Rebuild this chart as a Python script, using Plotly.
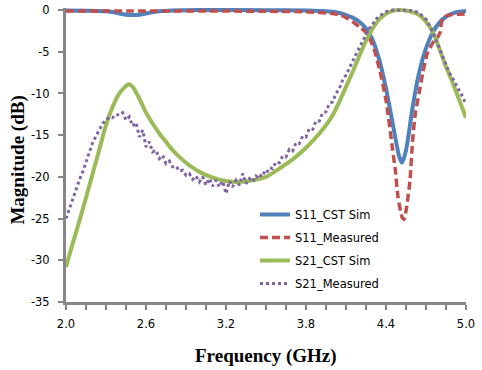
import numpy as np
import plotly.graph_objects as go

# ---------------- data ----------------
s11_sim_f = [2.0, 2.3, 2.4, 2.45, 2.5, 2.55, 2.6, 2.7, 2.8, 3.0, 3.5, 3.8, 3.9, 4.0, 4.05, 4.1, 4.15, 4.2,
             4.25, 4.3, 4.35, 4.4, 4.45, 4.5, 4.52, 4.55, 4.6, 4.65, 4.7, 4.75, 4.8, 4.85, 4.9, 4.95, 5.0]
s11_sim_db = [-0.05, -0.15, -0.4, -0.55, -0.6, -0.55, -0.4, -0.15, -0.05, 0.0, -0.02, -0.05, -0.1, -0.2, -0.35,
              -0.6, -0.9, -1.4, -2.2, -3.6, -6.0, -9.4, -13.6, -17.6, -18.3, -16.8, -11.6, -7.4, -4.6, -2.7,
              -1.5, -0.8, -0.4, -0.2, -0.1]

s11_meas_f = [2.0, 2.5, 3.0, 3.5, 3.8, 3.9, 4.0, 4.05, 4.1, 4.15, 4.2, 4.25, 4.3, 4.35, 4.4, 4.45, 4.47,
              4.49, 4.52, 4.535, 4.555, 4.58, 4.6, 4.62, 4.65, 4.675, 4.71, 4.76, 4.79, 4.805, 4.815, 4.83,
              4.87, 4.95, 5.0]
s11_meas_db = [-0.1, -0.1, -0.1, -0.15, -0.2, -0.3, -0.4, -0.55, -0.9, -1.4, -2.0, -2.7, -4.2, -7.0, -10.8,
               -16.8, -19.2, -22.4, -24.8, -25.1, -23.6, -20.4, -15.5, -12.4, -9.8, -7.6, -5.2, -3.7, -3.2,
               -2.7, -1.6, -0.9, -0.6, -0.5, -0.45]

s21_sim_f = [2.0, 2.05, 2.1, 2.15, 2.2, 2.25, 2.3, 2.35, 2.4, 2.45, 2.47, 2.5, 2.55, 2.6, 2.65, 2.7, 2.75,
             2.8, 2.85, 2.9, 2.95, 3.0, 3.1, 3.2, 3.3, 3.4, 3.5, 3.6, 3.7, 3.8, 3.9, 4.0, 4.1, 4.15, 4.2,
             4.25, 4.3, 4.35, 4.4, 4.45, 4.5, 4.55, 4.6, 4.65, 4.7, 4.75, 4.8, 4.85, 4.9, 4.95, 5.0]
s21_sim_db = [-30.8, -28.0, -25.3, -22.5, -19.6, -16.7, -13.8, -11.6, -10.0, -9.1, -8.9, -9.2, -10.6, -12.3,
              -13.6, -14.8, -15.8, -16.8, -17.6, -18.3, -18.9, -19.4, -20.1, -20.5, -20.6, -20.4, -20.0,
              -19.0, -17.9, -16.5, -14.8, -12.6, -9.2, -7.4, -5.5, -3.7, -2.2, -1.1, -0.45, -0.1, 0.0,
              -0.05, -0.25, -0.6, -1.4, -2.6, -4.6, -6.8, -8.7, -10.8, -12.9]

s21_meas_f = [round(2.0 + 0.025 * i, 3) for i in range(121)]
s21_meas_db = [-25.0, -23.8, -22.6, -21.6, -20.4, -19.4, -18.2, -17.1, -15.9, -15.1,
               -14.3, -13.6, -13.2, -12.8, -12.9, -12.5, -12.6, -12.3, -13.2, -12.8,
               -13.9, -13.5, -15.2, -14.4, -16.4, -15.8, -17.0, -16.8, -17.8, -17.4,
               -18.4, -18.1, -18.8, -18.7, -19.3, -19.2, -19.8, -19.6, -20.3, -19.9,
               -20.6, -20.0, -21.0, -20.2, -21.1, -20.4, -21.2, -20.5, -22.0, -20.5,
               -21.2, -20.4, -21.0, -19.6, -20.8, -20.2, -20.6, -19.9, -20.2, -19.4,
               -19.7, -18.9, -19.0, -18.2, -18.3, -17.5, -17.6, -16.7, -16.9, -15.9,
               -16.0, -15.1, -15.2, -14.2, -14.3, -13.3, -13.3, -12.3, -12.2, -11.2,
               -11.0, -10.0, -9.4, -8.4, -7.8, -6.9, -6.1, -5.3, -4.5, -3.7,
               -2.9, -2.2, -1.7, -1.1, -0.7, -0.4, -0.2, -0.1, 0.0, 0.0,
               0.0, 0.0, 0.0, -0.05, -0.1, -0.2, -0.4, -0.7, -1.1, -1.8,
               -2.6, -3.6, -4.6, -5.7, -6.7, -7.5, -8.2, -8.9, -9.6, -10.4,
               -11.3]

y_tickvals = [0, -5, -10, -15, -20, -25, -30, -35]
y_ticktext = ["0", "-5", "-10", "-15", "-20", "-25", "-30", "-35"]
x_tickvals = [2.0, 2.6, 3.2, 3.8, 4.4, 5.0]
x_ticktext = ["2.0", "2.6", "3.2", "3.8", "4.4", "5.0"]

names = ["S11_CST Sim", "S11_Measured", "S21_CST Sim", "S21_Measured"]

# ---------------- figure ----------------
TICKFONT = dict(family="DejaVu Sans", size=11.5, color="#000000")
TITLEFONT = dict(family="Liberation Serif", size=19, color="#000000")
AXIS_GREY = "#868686"

fig = go.Figure()
fig.add_trace(go.Scatter(x=s11_sim_f, y=s11_sim_db, name=names[0], mode="lines",
                         line=dict(color="#4F81BD", width=4, shape="spline", smoothing=0.8),
                         legendgroup="a"))
fig.add_trace(go.Scatter(x=s11_meas_f, y=s11_meas_db, name=names[1], mode="lines",
                         line=dict(color="#C0504D", width=3.5, dash="8px,4px", shape="spline", smoothing=0.6),
                         legendgroup="b"))
fig.add_trace(go.Scatter(x=s21_sim_f, y=s21_sim_db, name=names[2], mode="lines",
                         line=dict(color="#9BBB59", width=4, shape="spline", smoothing=0.8),
                         legendgroup="c"))
fig.add_trace(go.Scatter(x=s21_meas_f, y=s21_meas_db, name=names[3], mode="lines",
                         line=dict(color="#8064A2", width=3, dash="3px,3px"),
                         legendgroup="d"))

fig.update_layout(
    width=482, height=370,
    margin=dict(l=66, r=16, t=8, b=68, autoexpand=False),
    paper_bgcolor="white", plot_bgcolor="white",
    showlegend=True,
    legend=dict(x=0.4725, y=0.347, xanchor="left", yanchor="top",
                font=TICKFONT, bgcolor="rgba(0,0,0,0)",
                traceorder="grouped", tracegroupgap=4),
    xaxis=dict(range=[2.0, 5.0], tickvals=x_tickvals, ticktext=x_ticktext, automargin=False,
               showgrid=False, zeroline=False, showline=True, linecolor=AXIS_GREY, linewidth=3,
               ticks="outside", ticklen=5, tickwidth=2, tickcolor=AXIS_GREY,
               tickfont=TICKFONT, ticklabelstandoff=4,
               minor=dict(dtick=0.15, tick0=2.0, ticks="outside", ticklen=5, tickwidth=2,
                          tickcolor=AXIS_GREY, showgrid=False)),
    yaxis=dict(range=[-35, 0.25], tickvals=y_tickvals, ticktext=y_ticktext, automargin=False,
               showgrid=False, zeroline=False, showline=True, linecolor=AXIS_GREY, linewidth=3,
               ticks="outside", ticklen=5, tickwidth=2, tickcolor=AXIS_GREY,
               tickfont=TICKFONT, ticklabelstandoff=6),
    annotations=[
        dict(text="<b>Frequency (GHz)</b>", xref="paper", yref="paper", x=0.5, y=-0.184,
             xanchor="center", yanchor="middle", showarrow=False, font=TITLEFONT),
        dict(text="<b>Magnitude (dB)</b>", xref="paper", yref="paper", x=-0.121, y=0.483,
             xanchor="center", yanchor="middle", showarrow=False, textangle=-90, font=TITLEFONT),
    ],
)

fig.write_html("out.html", config={"displayModeBar": False},
               post_script="document.body.style.margin='0';document.body.style.overflow='hidden';")
